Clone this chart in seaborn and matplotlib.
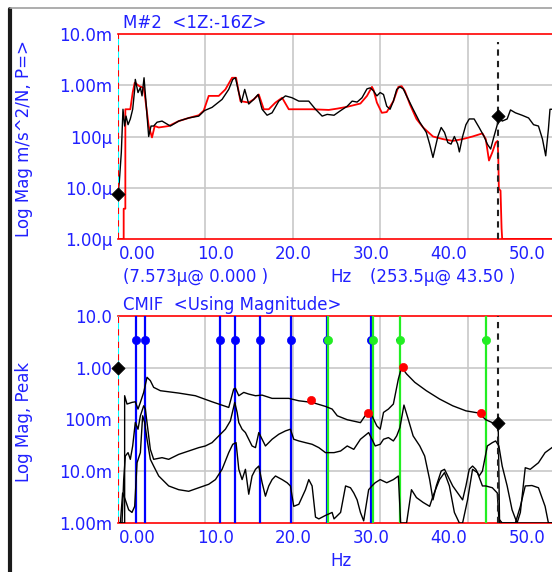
import numpy as np
import pandas as pd
import seaborn as sns
import matplotlib.pyplot as plt
from matplotlib.lines import Line2D

# measured FRF M#2 (black) and curve fit (red), m/s^2/N
meas_hz = [0.0, 0.15, 0.38, 0.57, 0.76, 0.92, 1.15, 1.41, 1.68, 1.91, 1.98, 2.29, 2.56, 2.75,
           2.98, 3.24, 3.51, 3.78, 4.08, 4.47, 5.04, 5.99, 6.95, 8.09, 9.24, 9.89, 10.76, 11.91,
           12.67, 13.13, 13.44, 13.82, 14.12, 14.5, 14.96, 15.53, 16.03, 16.49, 17.06, 17.63,
           18.4, 19.16, 19.92, 20.69, 21.83, 22.6, 23.36, 23.93, 24.72, 25.47, 26.23, 26.79,
           27.36, 27.92, 28.49, 28.87, 29.25, 29.62, 30.0, 30.38, 30.75, 31.13, 31.51, 31.89,
           32.26, 32.64, 33.02, 33.77, 34.53, 35.28, 35.66, 36.04, 36.6, 36.98, 37.36, 37.74,
           38.11, 38.49, 38.87, 39.06, 39.43, 39.81, 40.19, 40.75, 41.32, 41.89, 42.26, 42.64,
           43.02, 43.4, 43.5, 43.96, 44.53, 44.91, 45.47, 46.23, 46.98, 47.55, 48.11, 48.57,
           48.94, 49.25, 49.43, 49.7]
meas_mag = [7.6e-6, 1.3e-5, 4.9e-5, 3.4e-4, 1.6e-4, 2.5e-4, 1.7e-4, 2.2e-4, 3.4e-4, 8.3e-4,
            1.3e-3, 7.2e-4, 9.0e-4, 6.2e-4, 1.4e-3, 3.9e-4, 1.0e-4, 1.6e-4, 1.6e-4, 1.9e-4,
            2.0e-4, 1.6e-4, 2.0e-4, 2.3e-4, 2.5e-4, 3.2e-4, 3.7e-4, 5.3e-4, 8.3e-4, 1.3e-3,
            1.4e-3, 7.2e-4, 4.6e-4, 8.3e-4, 4.3e-4, 5.3e-4, 6.6e-4, 3.4e-4, 2.6e-4, 2.9e-4,
            4.9e-4, 6.2e-4, 5.7e-4, 4.9e-4, 4.9e-4, 3.4e-4, 2.5e-4, 2.7e-4, 2.6e-4, 3.2e-4,
            3.9e-4, 4.9e-4, 4.7e-4, 5.7e-4, 8.5e-4, 8.9e-4, 7.7e-4, 6.2e-4, 7.2e-4, 6.6e-4,
            3.9e-4, 3.4e-4, 4.9e-4, 8.3e-4, 9.3e-4, 8.5e-4, 6.2e-4, 3.4e-4, 1.9e-4, 1.2e-4,
            7.1e-5, 3.9e-5, 1.0e-4, 1.5e-4, 1.2e-4, 7.6e-5, 7.1e-5, 1.0e-4, 7.1e-5, 5.0e-5,
            1.0e-4, 1.7e-4, 2.2e-4, 2.2e-4, 1.5e-4, 1.0e-4, 7.1e-5, 5.7e-5, 1.0e-4, 1.7e-4,
            2.5e-4, 2.0e-4, 2.2e-4, 3.3e-4, 2.9e-4, 2.6e-4, 2.3e-4, 1.7e-4, 1.6e-4, 8.9e-5,
            4.2e-5, 1.4e-4, 3.4e-4, 3.4e-4]
fit_hz = [0.0, 0.65, 0.65, 0.84, 0.84, 1.03, 1.41, 1.68, 1.91, 2.18, 2.44, 2.94, 3.13, 3.51,
          3.89, 4.2, 4.66, 5.8, 6.95, 8.09, 9.24, 9.81, 10.38, 11.53, 12.29, 13.05, 13.51,
          14.01, 14.96, 15.53, 16.11, 16.68, 17.25, 18.02, 18.78, 19.54, 20.69, 22.21, 24.12,
          25.09, 26.23, 27.74, 28.49, 29.06, 29.25, 29.62, 30.19, 30.75, 31.51, 32.08, 32.45,
          32.83, 33.4, 34.15, 34.91, 36.04, 37.17, 38.3, 39.43, 40.57, 41.7, 42.08, 42.45,
          42.83, 43.21, 43.43, 43.51, 43.58, 43.77, 43.89, 43.96, 49.7]
fit_mag = [1e-6, 1e-6, 3.9e-6, 3.9e-6, 3.4e-4, 3.4e-4, 3.4e-4, 7.2e-4, 1.12e-3, 1.04e-3,
           9.6e-4, 8.9e-4, 5.3e-4, 1.6e-4, 9.6e-5, 1.6e-4, 1.5e-4, 1.6e-4, 2.0e-4, 2.3e-4,
           2.6e-4, 3.2e-4, 6.2e-4, 6.2e-4, 8.3e-4, 1.4e-3, 1.4e-3, 4.9e-4, 4.6e-4, 5.3e-4,
           6.6e-4, 3.4e-4, 3.4e-4, 4.6e-4, 5.7e-4, 3.4e-4, 3.4e-4, 3.4e-4, 3.3e-4, 3.5e-4,
           3.8e-4, 4.4e-4, 6.2e-4, 9.3e-4, 8.0e-4, 4.6e-4, 2.9e-4, 3.0e-4, 4.9e-4, 9.3e-4,
           9.6e-4, 7.7e-4, 4.25e-4, 2.2e-4, 1.5e-4, 1.0e-4, 8.9e-5, 8.2e-5, 8.9e-5, 1.0e-4,
           1.15e-4, 8.9e-5, 3.4e-5, 4.9e-5, 7.6e-5, 8.2e-5, 4.2e-5, 9.5e-6, 8.8e-6, 1.6e-6,
           1e-6, 1e-6]

# CMIF, three singular value curves
cmif1_hz = [0.0, 0.76, 0.76, 1.03, 1.6, 1.98, 2.29, 2.56, 2.94, 3.32, 3.7, 4.08, 4.85, 6.95,
            8.85, 10.76, 12.67, 13.24, 13.44, 13.82, 14.39, 14.96, 15.73, 16.49, 17.63, 19.54,
            20.69, 22.21, 23.74, 24.5, 25.09, 26.23, 27.74, 28.49, 29.06, 29.62, 30.0, 30.38,
            30.94, 31.51, 32.08, 32.45, 33.02, 33.96, 35.28, 36.79, 38.3, 39.81, 41.32, 42.08,
            42.83, 43.5, 43.66, 49.7]
cmif1_mag = [1e-3, 1e-3, 0.288, 0.199, 0.214, 0.220, 0.159, 0.214, 0.334, 0.654, 0.563, 0.418,
             0.360, 0.324, 0.288, 0.220, 0.171, 0.388, 0.400, 0.288, 0.334, 0.310, 0.288, 0.296,
             0.256, 0.256, 0.230, 0.214, 0.179, 0.159, 0.118, 0.099, 0.087, 0.133, 0.118, 0.075,
             0.065, 0.137, 0.159, 0.199, 0.607, 1.02, 0.759, 0.523, 0.360, 0.249, 0.184, 0.147,
             0.133, 0.099, 0.087, 0.087, 1e-3, 1e-3]
cmif2_hz = [0.0, 0.46, 0.65, 0.84, 1.15, 1.41, 1.68, 1.98, 2.29, 2.56, 2.94, 3.13, 3.32, 3.7,
            4.08, 5.04, 5.8, 6.95, 8.09, 9.24, 10.0, 10.76, 11.53, 12.29, 12.86, 13.36, 13.63,
            13.82, 14.2, 14.58, 14.96, 15.34, 15.73, 16.11, 16.49, 16.87, 17.25, 17.63, 18.4,
            19.16, 19.73, 20.11, 20.69, 21.45, 22.21, 22.98, 23.74, 24.72, 25.47, 26.23, 26.98,
            27.74, 28.68, 29.06, 29.43, 30.0, 30.38, 30.94, 31.51, 31.89, 32.26, 32.72, 33.21,
            33.77, 34.53, 35.09, 35.66, 36.04, 36.42, 36.98, 37.36, 37.74, 38.3, 38.87, 39.43,
            39.81, 40.19, 40.57, 40.94, 41.32, 41.7, 42.26, 42.83, 43.21, 43.58, 43.96, 44.53,
            45.09, 45.66, 46.04, 46.6, 47.17, 48.11, 48.87, 49.7]
cmif2_mag = [1e-3, 1e-3, 0.0069, 0.0197, 0.0229, 0.0170, 0.0308, 0.0874, 0.0649, 0.118, 0.184,
             0.159, 0.0874, 0.0265, 0.0170, 0.0183, 0.0170, 0.0212, 0.0246, 0.0286, 0.0308,
             0.0357, 0.0482, 0.0649, 0.0942, 0.214, 0.137, 0.0874, 0.0649, 0.0559, 0.0415,
             0.0308, 0.0286, 0.0559, 0.0415, 0.0308, 0.0357, 0.0415, 0.0519, 0.0602, 0.0649,
             0.0415, 0.0385, 0.0357, 0.0332, 0.0286, 0.0229, 0.0229, 0.0246, 0.0308, 0.0265,
             0.0415, 0.0559, 0.0415, 0.0308, 0.0332, 0.0415, 0.0447, 0.0385, 0.0482, 0.070,
             0.190, 0.101, 0.0482, 0.0308, 0.0197, 0.0069, 0.0028, 0.0052, 0.0101, 0.0109,
             0.0081, 0.0052, 0.0038, 0.0028, 0.0052, 0.0109, 0.0126, 0.0109, 0.0081, 0.0101,
             0.0308, 0.0357, 0.0385, 0.0308, 0.0126, 0.0052, 0.0018, 1e-3, 0.0016, 0.0117,
             0.0109, 0.0146, 0.0229, 0.0290]
cmif3_hz = [0.0, 0.27, 0.53, 0.84, 1.22, 1.6, 1.91, 2.18, 2.56, 2.82, 3.05, 3.32, 3.7, 4.08,
            4.66, 5.8, 6.95, 8.09, 9.24, 10.38, 11.15, 11.91, 12.67, 13.13, 13.51, 13.82, 14.2,
            14.58, 14.96, 15.34, 15.73, 16.11, 16.49, 16.87, 17.25, 17.63, 18.02, 18.78, 19.35,
            19.73, 20.11, 20.69, 21.45, 21.83, 22.21, 22.6, 22.98, 23.74, 24.5, 24.72, 25.47,
            26.04, 26.6, 26.98, 27.36, 27.74, 28.11, 28.68, 29.06, 29.43, 30.0, 30.75, 31.51,
            32.08, 32.34, 33.02, 33.58, 34.15, 34.91, 35.66, 36.04, 36.79, 37.36, 37.92, 38.49,
            39.06, 39.43, 40.0, 40.57, 41.13, 41.7, 42.08, 42.83, 43.4, 43.58, 43.96, 45.47,
            46.04, 46.6, 47.36, 48.11, 48.87, 49.25, 49.7]
cmif3_mag = [1e-3, 1e-3, 0.0038, 0.0028, 0.0018, 0.0016, 0.0021, 0.0146, 0.0229, 0.118, 0.0874,
             0.0415, 0.0170, 0.0126, 0.0081, 0.0052, 0.0044, 0.0041, 0.0048, 0.0056, 0.0069,
             0.0109, 0.0229, 0.0332, 0.0357, 0.0109, 0.0069, 0.0109, 0.0036, 0.0081, 0.0109,
             0.0126, 0.0060, 0.0033, 0.0052, 0.0069, 0.0081, 0.0069, 0.0060, 0.0052, 0.0021,
             0.0023, 0.0044, 0.0069, 0.0052, 0.0013, 0.0012, 0.0014, 0.0016, 0.0012, 0.0016,
             0.0052, 0.0048, 0.0038, 0.0028, 0.0016, 0.0011, 0.0044, 0.0052, 0.0060, 0.0069,
             0.0060, 0.0069, 0.0081, 1e-3, 1e-3, 0.0044, 0.0031, 0.0025, 0.0021, 0.0033, 0.0069,
             0.0094, 0.0052, 0.0016, 1e-3, 1e-3, 0.0028, 0.0109, 0.0094, 0.0052, 0.0052, 0.0048,
             0.0038, 0.0012, 1e-3, 1e-3, 0.0021, 0.0052, 0.0053, 0.0048, 0.0021, 1e-3, 1e-3]

blue_modes = [2.1, 3.05, 11.64, 13.44, 16.3, 19.85, 23.9, 29.0]
green_modes = [24.05, 29.2, 32.26, 42.11]
mode_marker_level = 3.4
peak_hz = [22.1, 28.6, 32.6, 41.5]
peak_mag = [0.24, 0.133, 1.02, 0.133]

cursor_a = 0.0
cursor_b = 43.5
top_cursor_mag = [7.573e-6, 253.5e-6]
cmif_cursor_mag = [1.0, 0.087]

xtick_labels = ["0.00", "10.0", "20.0", "30.0", "40.0", "50.0"]
top_ytick_labels = ["1.00\u00b5", "10.0\u00b5", "100\u00b5", "1.00m", "10.0m"]
cmif_ytick_labels = ["1.00m", "10.0m", "100m", "1.00", "10.0"]

sns.set_style("white")
plt.rcParams['font.family'] = ['DejaVu Sans']
BLUE = '#2020ff'
FS = 12

fig = plt.figure(figsize=(5.52, 5.72), dpi=100)
W, H = 552.0, 572.0
ax1 = fig.add_axes([118 / W, 1 - 239 / H, 1 - 118 / W, 205 / H])
ax2 = fig.add_axes([118 / W, 1 - 523 / H, 1 - 118 / W, 207 / H])

xmax = 49.66


def setup(ax, ylo, yhi, ylabels, ylabel):
    ax.set_yscale('log')
    ax.grid(False)
    for v in [10, 20, 30, 40]:
        ax.axvline(v, color='#c8c8c8', lw=1.2, zorder=0)
    for v in np.logspace(np.log10(ylo), np.log10(yhi), 5)[1:-1]:
        ax.axhline(v, color='#c8c8c8', lw=1.2, zorder=0)
    for s in ['left', 'right']:
        ax.spines[s].set_visible(False)
    for s in ['top', 'bottom']:
        ax.spines[s].set_color('red')
        ax.spines[s].set_linewidth(1.2)
    ax.set_ylabel(ylabel, color=BLUE, fontsize=FS)
    ax.yaxis.set_label_coords(-0.196, 0.49)
    # reference cursor at 0 Hz (cyan with red dashes)
    ax.axvline(cursor_a, color='cyan', lw=1.5, zorder=5)
    ax.axvline(cursor_a, color='red', lw=1.5, ls=(0, (3, 3)), zorder=6)


def finish(ax, ylo, yhi, ylabels):
    ax.set_xlim(0, xmax)
    ax.set_ylim(ylo, yhi)
    ax.set_yticks(np.logspace(np.log10(ylo), np.log10(yhi), 5))
    ax.set_yticklabels(ylabels)
    ax.yaxis.set_minor_locator(plt.NullLocator())
    ax.set_xticks(np.linspace(2.2, 46.8, 6))
    ax.set_xticklabels(xtick_labels)
    ax.tick_params(axis='both', which='both', length=0, labelsize=FS, colors=BLUE)
    ax.tick_params(axis='y', pad=4)
    ax.tick_params(axis='x', pad=4)


# ---- top: FRF ----
setup(ax1, 1e-6, 1e-2, top_ytick_labels, "Log Mag m/s^2/N, P=>")
sns.lineplot(x=fit_hz, y=fit_mag, ax=ax1, sort=False, estimator=None, color='red', lw=1.3, zorder=3)
sns.lineplot(x=meas_hz, y=meas_mag, ax=ax1, sort=False, estimator=None, color='black', lw=1.0, zorder=4)
ax1.plot([cursor_b, cursor_b], [1e-6, 7e-3], color='#202020', lw=1.5, ls=(0, (3, 2.5)), zorder=5)
sns.scatterplot(x=[cursor_a, cursor_b], y=top_cursor_mag, ax=ax1, marker='D', s=45,
                color='black', edgecolor='black', zorder=7, clip_on=False)
finish(ax1, 1e-6, 1e-2, top_ytick_labels)

# ---- bottom: CMIF ----
setup(ax2, 1e-3, 10.0, cmif_ytick_labels, "Log Mag, Peak")
for hz, mag in [(cmif1_hz, cmif1_mag), (cmif2_hz, cmif2_mag), (cmif3_hz, cmif3_mag)]:
    sns.lineplot(x=hz, y=mag, ax=ax2, sort=False, estimator=None, color='black', lw=1.0, zorder=4)
for f in blue_modes:
    ax2.axvline(f, color='#0000ff', lw=1.6, zorder=3)
for f in green_modes:
    ax2.axvline(f, color='#22ee22', lw=1.6, zorder=3)
sns.scatterplot(x=blue_modes, y=[mode_marker_level] * len(blue_modes), ax=ax2, color='#0000ff',
                s=35, edgecolor='#0000ff', zorder=6)
ax2.errorbar(green_modes + [19.85], [mode_marker_level] * 5, xerr=0.45, fmt='none',
             ecolor='#0000ff', lw=1.5, capsize=0, zorder=6)
sns.scatterplot(x=green_modes, y=[mode_marker_level] * len(green_modes), ax=ax2, color='#22ee22',
                s=35, edgecolor='#22ee22', zorder=7)
sns.scatterplot(x=peak_hz, y=peak_mag, ax=ax2, color='red', s=35, edgecolor='red', zorder=7)
ax2.axvline(cursor_b, color='#202020', lw=1.5, ls=(0, (3, 2.5)), zorder=5)
sns.scatterplot(x=[cursor_a, cursor_b], y=cmif_cursor_mag, ax=ax2, marker='D', s=45,
                color='black', edgecolor='black', zorder=7, clip_on=False)
ax2.set_xlabel("Hz", color=BLUE, fontsize=FS)
ax2.xaxis.set_label_coords((341 - 118) / 434, -0.14)
finish(ax2, 1e-3, 10.0, cmif_ytick_labels)

# annotation text
fig.text(123 / W, 1 - 23 / H, "M#2  <1Z:-16Z>", color=BLUE, fontsize=FS, va='center')
fig.text(123 / W, 1 - 305 / H, "CMIF  <Using Magnitude>", color=BLUE, fontsize=FS, va='center')
fig.text(123 / W, 1 - 277 / H, "(7.573\u00b5@ 0.000 )", color=BLUE, fontsize=FS, va='center')
fig.text(341 / W, 1 - 277 / H, "Hz", color=BLUE, fontsize=FS, va='center', ha='center')
fig.text(370 / W, 1 - 277 / H, "(253.5\u00b5@ 43.50 )", color=BLUE, fontsize=FS, va='center')

# window frame
fig.add_artist(Line2D([10 / W, 10 / W], [0, 1 - 9 / H], color='#1a1a1a', lw=3))
fig.add_artist(Line2D([10 / W, 1], [1 - 8 / H, 1 - 8 / H], color='#a0a0a0', lw=1.2))

fig.savefig('out.png', dpi=100)
